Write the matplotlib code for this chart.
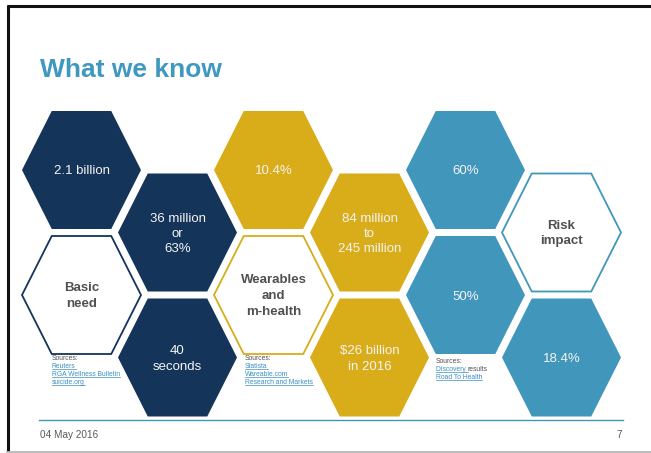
import matplotlib.pyplot as plt
from matplotlib.patches import Polygon

plt.rcParams['font.family'] = ['Liberation Sans', 'DejaVu Sans']

NAVY = '#14345a'
GOLD = '#d9ac1a'
TEAL = '#4196bc'
GREY = '#505050'
LINK = '#3a90c0'

# figures shown in the filled hexagons, one list per theme
need_stats = ["2.1 billion", "36 million\nor\n63%", "40\nseconds"]
wearable_stats = ["10.4%", "84 million\nto\n245 million", "$26 billion\nin 2016"]
risk_stats = ["60%", "50%", "18.4%"]
themes = ["Basic\nneed", "Wearables\nand\nm-health", "Risk\nimpact"]
need_sources = ["Reuters", "RGA Wellness Bulletin", "suicide.org"]
wearable_sources = ["Statista", "Wareable.com", "Research and Markets"]
risk_sources = ["Discovery ", "Road To Health"]

# honeycomb slots (column, row) for each theme: stats first, heading last
layout = [
    (NAVY, need_stats, [(0, 0), (1, 0), (1, 1)], (0, 1)),
    (GOLD, wearable_stats, [(2, 0), (3, 0), (3, 1)], (2, 1)),
    (TEAL, risk_stats, [(4, 0), (4, 1), (5, 1)], (5, 0)),
]

R = 59.5   # half width
H = 59.0   # half height


def hex_center(col, row):
    return 81.5 + 96 * col, 170 + 62.5 * (col % 2) + 125 * row


def hexagon(ax, col, row, color, filled):
    cx, cy = hex_center(col, row)
    pts = [(cx - R, cy), (cx - R / 2, cy - H), (cx + R / 2, cy - H),
           (cx + R, cy), (cx + R / 2, cy + H), (cx - R / 2, cy + H)]
    if filled:
        ax.add_patch(Polygon(pts, closed=True, facecolor=color, edgecolor='none'))
    else:
        ax.add_patch(Polygon(pts, closed=True, facecolor='white', edgecolor=color, lw=1.3))
    return cx, cy


fig = plt.figure(figsize=(6.51, 4.53), dpi=100)
ax = fig.add_axes([0, 0, 1, 1])
ax.set_xlim(0, 651)
ax.set_ylim(453, 0)
ax.axis('off')

# slide frame
ax.plot([7, 651], [6, 6], color='#111111', lw=2.2, solid_capstyle='butt')
ax.plot([7.5, 7.5], [5, 451], color='#111111', lw=2.2, solid_capstyle='butt')
ax.plot([7, 651], [451.5, 451.5], color='#b0b0b0', lw=1.2)

ax.text(40, 70, "What we know", fontsize=19, fontweight='bold', color='#3e98c0',
        va='center', ha='left')

for i, (color, stats, slots, head) in enumerate(layout):
    for label, (col, row) in zip(stats, slots):
        cx, cy = hexagon(ax, col, row, color, True)
        ax.text(cx, cy + 1.5, label, color='#f4f4f4', fontsize=9.5, ha='center',
                va='center', linespacing=1.38)
    cx, cy = hexagon(ax, head[0], head[1], color, False)
    ax.text(cx, cy + 1, themes[i], color=GREY, fontsize=9.5, fontweight='bold',
            ha='center', va='center', linespacing=1.4)

fig.canvas.draw()
renderer = fig.canvas.get_renderer()
inv = ax.transData.inverted()


def link(x, y, s):
    t = ax.text(x, y, s, fontsize=4.9, color=LINK, ha='left', va='center')
    bb = t.get_window_extent(renderer)
    (x0, y0), (x1, y1) = inv.transform([(bb.x0, bb.y0), (bb.x1, bb.y1)])
    ax.plot([x0, x1], [y0 - 0.9, y0 - 0.9], color=LINK, lw=0.5)
    return x1


def sources(x, y, names):
    ax.text(x, y, "Sources:", fontsize=4.9, color=GREY, ha='left', va='center')
    ends = []
    for i, name in enumerate(names):
        ends.append(link(x, y + 8 * (i + 1), name))
    return ends


sources(52, 358.5, need_sources)
sources(245, 358.5, wearable_sources)
ends = sources(436, 361.5, risk_sources)
ax.text(ends[0], 369.5, "results", fontsize=4.9, color=GREY, ha='left', va='center')

# footer
ax.plot([39, 623], [420, 420], color=TEAL, lw=1.0)
ax.text(40, 435.5, "04 May 2016", fontsize=7.2, color='#595959', ha='left', va='center')
ax.text(622, 435.5, "7", fontsize=7.2, color='#595959', ha='right', va='center')

fig.savefig('out.png', dpi=100)
